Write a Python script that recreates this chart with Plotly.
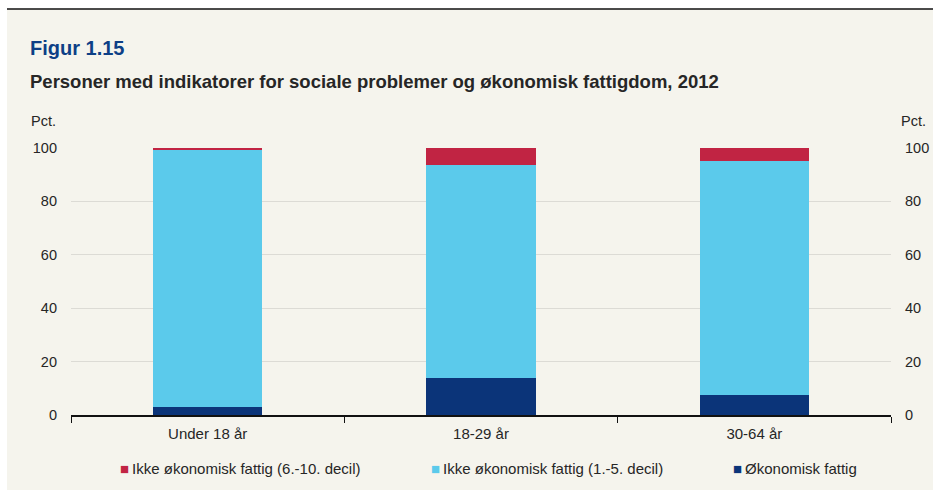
import plotly.graph_objects as go

categories = ["Under 18 år", "18-29 år", "30-64 år"]
fattig = [3.0, 14.0, 7.5]
ikke_fattig_lav = [96.6, 79.6, 87.6]
ikke_fattig_hoy = [0.4, 6.4, 4.9]
y_ticks = [0, 20, 40, 60, 80, 100]

series_names = ["Økonomisk fattig",
                "Ikke økonomisk fattig (1.-5. decil)",
                "Ikke økonomisk fattig (6.-10. decil)"]
series_colors = ["#0b3479", "#5bcaeb", "#c12443"]

BG = "#f5f4ed"
TXT = "#262626"
FONT = "Liberation Sans, Arial, sans-serif"
W, H = 933, 490
L, R, T, B = 71, 42, 148, 75
PW, PH = W - L - R, H - T - B


def px(x):
    # pixel x -> paper x
    return (x - L) / PW


def py(y):
    # pixel y (from top) -> paper y
    return (H - B - y) / PH


fig = go.Figure()
for name, vals, col in zip(series_names, [fattig, ikke_fattig_lav, ikke_fattig_hoy], series_colors):
    fig.add_trace(go.Bar(x=categories, y=vals, name=name,
                         marker=dict(color=col, line_width=0)))
# invisible trace so the right axis is drawn
fig.add_trace(go.Scatter(x=categories, y=[0, 0, 0], yaxis="y2", mode="markers",
                         marker=dict(opacity=0), showlegend=False, hoverinfo="skip"))

fig.update_layout(
    width=W, height=H,
    barmode="stack", bargap=0.6,
    paper_bgcolor=BG, plot_bgcolor=BG,
    font=dict(family=FONT, size=15, color=TXT),
    margin=dict(l=L, r=R, t=T, b=B, autoexpand=False),
    xaxis=dict(showline=True, linecolor="#111111", linewidth=1.5,
               ticks="outside", tickson="boundaries", ticklen=6, tickcolor="#111111",
               tickfont=dict(size=15, color=TXT), ticklabelstandoff=4, automargin=False),
    yaxis=dict(range=[0, 100], tickvals=y_ticks, showgrid=True, gridcolor="#dcdbd5",
               gridwidth=1, zeroline=False, ticks="", ticklabelstandoff=13,
               tickfont=dict(size=14.5, color=TXT), automargin=False),
    yaxis2=dict(range=[0, 100], tickvals=y_ticks, overlaying="y", side="right",
                showgrid=False, zeroline=False, ticks="", ticklabelstandoff=13,
                tickfont=dict(size=14.5, color=TXT), automargin=False),
    showlegend=False,
)

# white strip above the header line and along the left edge
fig.add_shape(type="rect", xref="paper", yref="paper", x0=px(0), x1=px(W),
              y0=py(9), y1=py(0), fillcolor="white", line_width=0, layer="below")
fig.add_shape(type="rect", xref="paper", yref="paper", x0=px(0), x1=px(7),
              y0=py(H), y1=py(0), fillcolor="white", line_width=0, layer="below")
fig.add_shape(type="line", xref="paper", yref="paper", x0=px(7), x1=px(W),
              y0=py(9), y1=py(9), line=dict(color="#111111", width=1.5))

fig.add_annotation(text="<b>Figur 1.15</b>", xref="paper", yref="paper",
                   x=px(28), y=py(48), xanchor="left", yanchor="middle",
                   showarrow=False, font=dict(size=20, color="#0d3f86"))
fig.add_annotation(text="<b>Personer med indikatorer for sociale problemer og økonomisk fattigdom, 2012</b>",
                   xref="paper", yref="paper", x=px(28), y=py(81),
                   xanchor="left", yanchor="middle", showarrow=False,
                   font=dict(size=18.5, color=TXT))
fig.add_annotation(text="Pct.", xref="paper", yref="paper", x=px(29), y=py(121),
                   xanchor="left", yanchor="middle", showarrow=False,
                   font=dict(size=14.5, color=TXT))
fig.add_annotation(text="Pct.", xref="paper", yref="paper", x=px(928), y=py(121),
                   xanchor="right", yanchor="middle", showarrow=False,
                   font=dict(size=14.5, color=TXT))

# legend row, in the order of the reference
legend_x = [118, 429, 731]
for lx, name, col in zip(legend_x, series_names[::-1], series_colors[::-1]):
    fig.add_annotation(text=f"<span style='color:{col}'>■</span>\u2009{name}",
                       xref="paper", yref="paper", x=px(lx), y=py(468),
                       xanchor="left", yanchor="middle", showarrow=False,
                       font=dict(size=15, color=TXT))

fig.write_html("out.html", config={"displayModeBar": False},
               post_script="document.body.style.margin='0';")
